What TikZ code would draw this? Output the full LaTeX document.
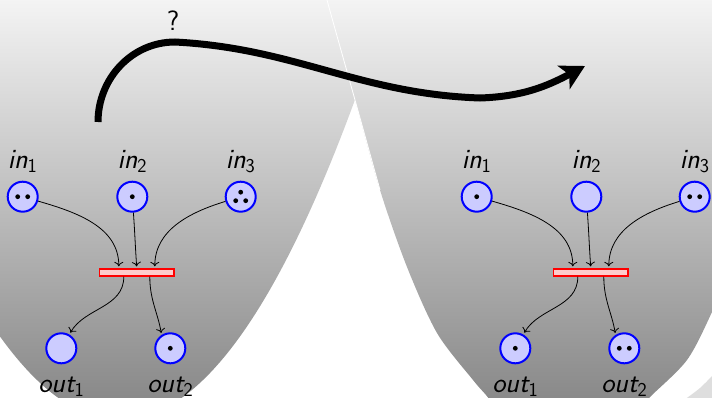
\documentclass[tikz,border=0pt]{standalone}
\usepackage{fontspec}
\usetikzlibrary{arrows.meta}
\definecolor{shtop}{gray}{0.955}
\definecolor{shbot}{gray}{0.54}
\definecolor{thirdc}{gray}{0.87}
\definecolor{placefill}{RGB}{204,204,255}
\definecolor{transfill}{RGB}{255,204,204}
\newcommand\pl[2]{{\itshape #1}\textsubscript{#2}}
\newcommand\tokA[1]{\fill (#1) circle (2.4);}
\newcommand\tokB[1]{\fill ([xshift=-5pt]#1) circle (2.4); \fill ([xshift=5pt]#1) circle (2.4);}
\newcommand\tokC[1]{\fill ([yshift=4.5pt]#1) circle (2.4); \fill ([xshift=-5pt,yshift=-4pt]#1) circle (2.4); \fill ([xshift=5pt,yshift=-4pt]#1) circle (2.4);}
\newcommand\petrinet[2]{%
\begin{scope}[xshift=#2]
\node[place] (#1-in1) at (22.7,200.3) {};
\node[place] (#1-in2) at (132.3,200.3) {};
\node[place] (#1-in3) at (240.7,200.3) {};
\node[trans] (#1-t) at (136.8,124.5) {};
\node[place] (#1-out1) at (61.3,48.7) {};
\node[place] (#1-out2) at (170.3,48.7) {};
\node[lab] (#1-lin1) at (22.7,228.7) {\pl{in}{1}};
\node[lab] (#1-lin2) at (132.3,228.7) {\pl{in}{2}};
\node[lab] (#1-lin3) at (240.7,228.7) {\pl{in}{3}};
\node[lab] (#1-lout1) at (61.3,4.7) {\pl{out}{1}};
\node[lab] (#1-lout2) at (170.3,4.7) {\pl{out}{2}};
\draw[arc] (#1-in1) to[out=-16,in=90] ([xshift=-18pt]#1-t.north);
\draw[arc] (#1-in2) to[out=-86,in=94] (#1-t.north);
\draw[arc] (#1-in3) to[out=197,in=90] ([xshift=18pt]#1-t.north);
\draw[arc] ([xshift=-13pt]#1-t.south) to[out=-90,in=60] (#1-out1.60);
\draw[arc] ([xshift=13pt]#1-t.south) to[out=-90,in=100] (#1-out2.123);
\end{scope}}
\begin{document}
\begin{tikzpicture}[x=1pt,y=1pt,font=\sffamily\fontsize{28}{32}\selectfont,
  place/.style={circle,draw=blue,fill=placefill,line width=2pt,minimum size=30pt,inner sep=0pt},
  trans/.style={rectangle,draw=red,fill=transfill,line width=1.8pt,minimum width=74.5pt,minimum height=6.5pt,inner sep=0pt},
  lab/.style={anchor=base,inner sep=0pt},
  arc/.style={line width=0.8pt,-{To[length=4.5pt,width=9pt]},shorten >=2pt},
  bigarrow/.style={line width=7pt,-{Stealth[length=24pt,width=26pt,inset=6pt]}}]
\useasboundingbox (0,0) rectangle (712,397);
\clip (0,0) rectangle (712,397);
% left bowl
\begin{scope}
\clip plot[domain=-60:385,samples=90] (\x,{-23+(0.07616*(\x-120))^2}) -- (385,420) -- (-60,420) -- cycle;
\shade[top color=shtop,bottom color=shbot] (-2,0) rectangle (714,397);
\end{scope}
% right bowl
\begin{scope}
\clip plot[smooth] coordinates {(322,420) (327,397) (355,297) (380,207) (407,130) (437,64) (473,17) (486,2) (497,-12)}
  -- plot[smooth] coordinates {(640,-12) (650,0) (687,37) (712,85) (740,150)} -- (740,420) -- cycle;
\shade[top color=shtop,bottom color=shbot] (-2,0) rectangle (714,397);
\end{scope}
\draw[white,line width=0.8pt] plot[smooth] coordinates {(322,420) (327,397) (355,297) (380,207)};
% third bowl corner
\fill[thirdc] plot[smooth] coordinates {(684,-3) (700,9) (715,24)} -- (715,-3) -- cycle;
% big arrow
\coordinate (qa) at (98,275);
\coordinate (qt) at (175,355);
\coordinate (qm) at (480,299);
\coordinate (qb) at (585,331);
\draw[bigarrow] (qa) to[out=90,in=180] (qt) to[out=-3,in=178] (qm) to[out=2,in=-152] (qb);
\node[anchor=base,inner sep=0pt] (qlabel) at (173,366.5) {?};
% nets
\petrinet{L}{0}
\petrinet{R}{454}
\tokB{L-in1} \tokA{L-in2} \tokC{L-in3} \tokA{L-out2}
\tokA{R-in1} \tokB{R-in3} \tokA{R-out1} \tokB{R-out2}
\end{tikzpicture}
\end{document}
